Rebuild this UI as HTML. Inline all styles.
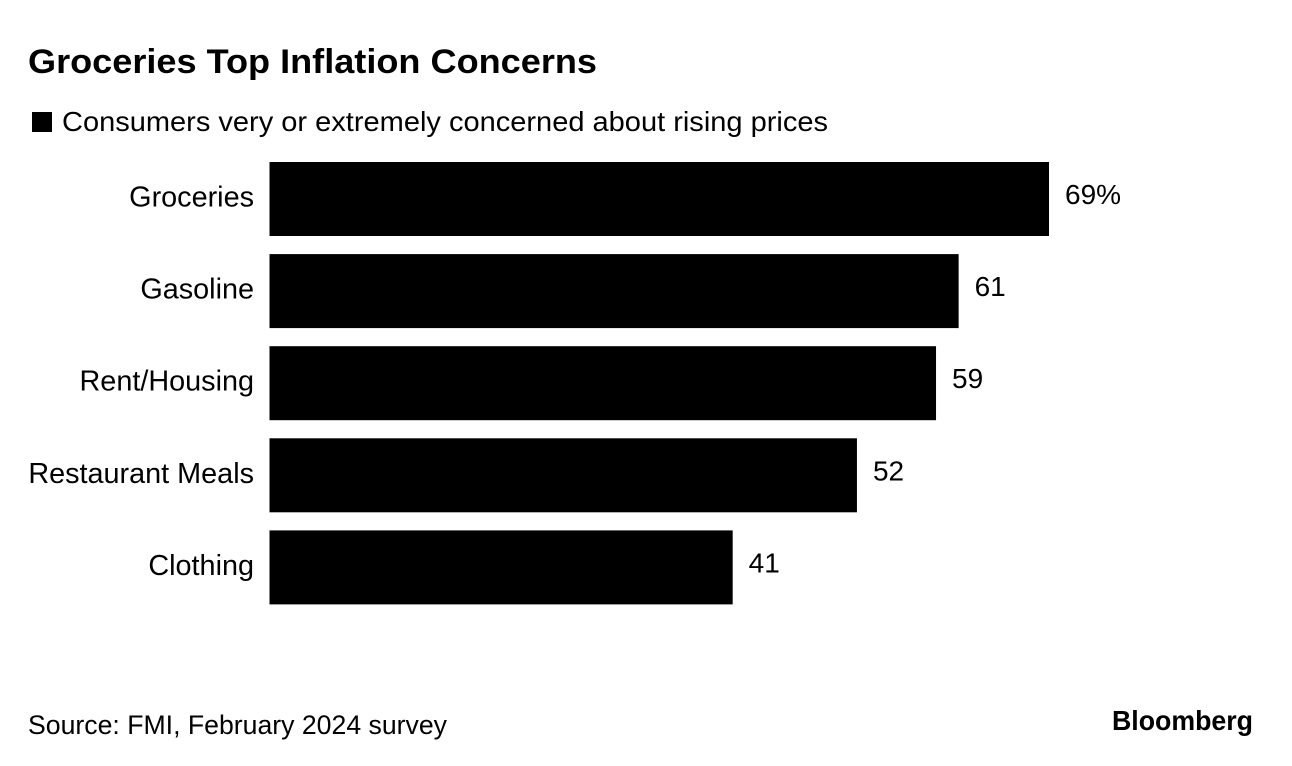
<!DOCTYPE html>
<html>
<head>
<meta charset="utf-8">
<style>
html,body{margin:0;padding:0;background:#fff;width:1292px;height:766px;overflow:hidden}
svg{display:block}
text{font-family:"Liberation Sans",sans-serif;fill:#000}
</style>
</head>
<body>
<svg id="chart" width="1292" height="766" viewBox="0 0 1292 766" xmlns="http://www.w3.org/2000/svg">
<text x="28" y="73" font-size="34.5" font-weight="700" textLength="569" lengthAdjust="spacingAndGlyphs">Groceries Top Inflation Concerns</text>
<rect x="32" y="112" width="20" height="20" fill="#000"/>
<text x="62" y="131" font-size="27.5" textLength="766" lengthAdjust="spacingAndGlyphs">Consumers very or extremely concerned about rising prices</text>
<g id="bars"></g>
<text x="28" y="734" font-size="26.5" textLength="419" lengthAdjust="spacingAndGlyphs">Source: FMI, February 2024 survey</text>
<text x="1112" y="730" font-size="28" font-weight="700" textLength="141" lengthAdjust="spacingAndGlyphs">Bloomberg</text>
</svg>
<script>
const categories = ["Groceries", "Gasoline", "Rent/Housing", "Restaurant Meals", "Clothing"];
const values = [69, 61, 59, 52, 41];
const valueLabels = ["69%", "61", "59", "52", "41"];

const xScale = v => 269.5 + v * (1049 - 269.5) / 69;
const yScale = i => 162 + i * 92.1;
const barHeight = 74;
const svgNS = "http://www.w3.org/2000/svg";
const group = document.getElementById("bars");

categories.forEach((cat, i) => {
  const y = yScale(i);
  const x1 = xScale(values[i]);

  const label = document.createElementNS(svgNS, "text");
  
  
  label.setAttribute("x", 254);
  label.setAttribute("y", y + 44.5);
  label.setAttribute("text-anchor", "end");
  label.setAttribute("font-size", "28.8");
  label.textContent = cat;
  group.appendChild(label);

  const bar = document.createElementNS(svgNS, "rect");
  
  
  bar.setAttribute("x", xScale(0));
  bar.setAttribute("y", y);
  bar.setAttribute("width", x1 - xScale(0));
  bar.setAttribute("height", barHeight);
  bar.setAttribute("fill", "#000");
  group.appendChild(bar);

  const val = document.createElementNS(svgNS, "text");
  
  
  val.setAttribute("x", x1 + 16);
  val.setAttribute("y", y + 42);
  val.setAttribute("font-size", "28");
  val.textContent = valueLabels[i];
  group.appendChild(val);
});
</script>
</body>
</html>
